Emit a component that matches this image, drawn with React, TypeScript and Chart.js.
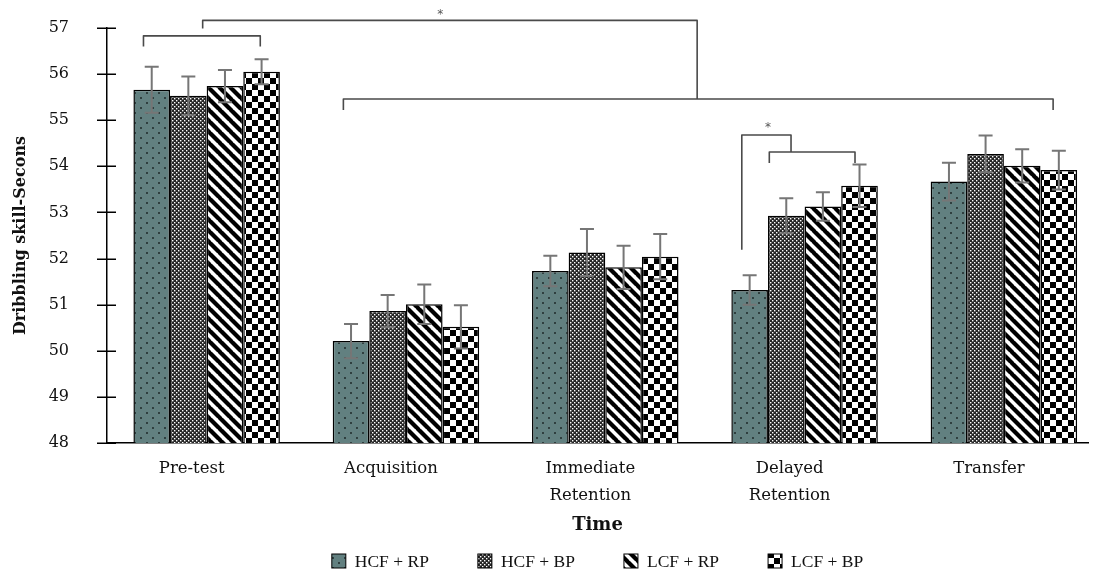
import React, { useEffect, useRef } from 'react';
import { Chart, registerables } from 'chart.js';

Chart.register(...registerables);

// ---------- data ----------
const categories: (string | string[])[] = [
  'Pre-test',
  'Acquisition',
  ['Immediate', 'Retention'],
  ['Delayed', 'Retention'],
  'Transfer',
];
const seriesLabels = ['HCF + RP', 'HCF + BP', 'LCF + RP', 'LCF + BP'];

const hcfRp = [55.66, 50.21, 51.73, 51.32, 53.67];
const hcfBp = [55.53, 50.86, 52.13, 52.93, 54.27];
const lcfRp = [55.74, 51.01, 51.81, 53.13, 54.01];
const lcfBp = [56.05, 50.52, 52.04, 53.58, 53.92];

const hcfRpErr = [0.5, 0.37, 0.33, 0.32, 0.41];
const hcfBpErr = [0.42, 0.35, 0.51, 0.38, 0.4];
const lcfRpErr = [0.35, 0.43, 0.47, 0.31, 0.36];
const lcfBpErr = [0.27, 0.47, 0.49, 0.46, 0.42];

const yMin = 48;
const yMax = 57;
const yStep = 1;

const yTitle = 'Dribbling skill-Secons';
const xTitle = 'Time';

// significance brackets (x in category units, y in seconds)
const bracketPreTest = [[-0.317, 56.6], [-0.317, 56.83], [0.269, 56.83], [0.269, 56.6]];
const bracketTop = [[-0.02, 56.99], [-0.02, 57.165], [2.461, 57.165], [2.461, 55.46]];
const bracketLong = [[0.686, 55.22], [0.686, 55.46], [4.247, 55.46], [4.247, 55.22]];
const bracketDelayedOuter = [[2.685, 52.19], [2.685, 54.68], [2.932, 54.68], [2.932, 54.31]];
const bracketDelayedInner = [[2.823, 54.07], [2.823, 54.31], [3.253, 54.31], [3.253, 54.07]];
const starMarks = [[1.172, 57.33], [2.817, 54.88]];

// ---------- patterns ----------
function tile(w: number, h: number, draw: (c: CanvasRenderingContext2D) => void): CanvasPattern {
  const cv = document.createElement('canvas');
  cv.width = w;
  cv.height = h;
  const c = cv.getContext('2d')!;
  draw(c);
  return c.createPattern(cv, 'repeat')!;
}

function makePatterns(): CanvasPattern[] {
  const dots = tile(12, 10, (c) => {
    c.fillStyle = '#628080';
    c.fillRect(0, 0, 12, 10);
    c.fillStyle = '#1f2a2a';
    c.beginPath();
    c.arc(3, 3, 1, 0, Math.PI * 2);
    c.arc(9, 8, 1, 0, Math.PI * 2);
    c.fill();
  });
  const mesh = tile(4, 4, (c) => {
    c.fillStyle = '#262626';
    c.fillRect(0, 0, 4, 4);
    c.fillStyle = '#ffffff';
    c.fillRect(0, 0, 1.4, 1.4);
    c.fillRect(2, 2, 1.4, 1.4);
  });
  const stripes = tile(11, 11, (c) => {
    c.fillStyle = '#ffffff';
    c.fillRect(0, 0, 11, 11);
    c.strokeStyle = '#000000';
    c.lineWidth = 4.2;
    for (const k of [-11, 0, 11]) {
      c.beginPath();
      c.moveTo(k - 1, -1);
      c.lineTo(k + 12, 12);
      c.stroke();
    }
  });
  const checks = tile(12, 12, (c) => {
    c.fillStyle = '#ffffff';
    c.fillRect(0, 0, 12, 12);
    c.fillStyle = '#000000';
    c.fillRect(0, 0, 6, 6);
    c.fillRect(6, 6, 6, 6);
  });
  return [dots, mesh, stripes, checks];
}

// ---------- plugins ----------
const errorBarPlugin = {
  id: 'errorBars',
  afterDatasetsDraw(chart: any) {
    const errs = [hcfRpErr, hcfBpErr, lcfRpErr, lcfBpErr];
    const y = chart.scales.y;
    const ctx = chart.ctx;
    ctx.save();
    ctx.strokeStyle = '#767676';
    ctx.lineWidth = 2;
    chart.data.datasets.forEach((ds: any, i: number) => {
      const meta = chart.getDatasetMeta(i);
      meta.data.forEach((bar: any, j: number) => {
        const v = ds.data[j].y;
        const e = errs[i][j];
        const top = y.getPixelForValue(v + e);
        const bot = y.getPixelForValue(v - e);
        ctx.beginPath();
        ctx.moveTo(bar.x, top);
        ctx.lineTo(bar.x, bot);
        ctx.moveTo(bar.x - 7, top);
        ctx.lineTo(bar.x + 7, top);
        ctx.moveTo(bar.x - 7, bot);
        ctx.lineTo(bar.x + 7, bot);
        ctx.stroke();
      });
    });
    ctx.restore();
  },
};

const annotationPlugin = {
  id: 'brackets',
  afterDraw(chart: any) {
    const x = chart.scales.x;
    const y = chart.scales.y;
    const ctx = chart.ctx;
    ctx.save();
    // tick marks crossing the y axis
    ctx.strokeStyle = '#000';
    ctx.lineWidth = 1.5;
    y.ticks.forEach((t: any) => {
      const py = Math.round(y.getPixelForValue(t.value)) + 0.25;
      ctx.beginPath();
      ctx.moveTo(chart.chartArea.left - 10, py);
      ctx.lineTo(chart.chartArea.left + 9, py);
      ctx.stroke();
    });
    // brackets
    ctx.strokeStyle = '#4a4a4a';
    ctx.lineWidth = 1.6;
    ctx.lineJoin = 'round';
    [bracketPreTest, bracketTop, bracketLong, bracketDelayedOuter, bracketDelayedInner].forEach((b) => {
      ctx.beginPath();
      b.forEach((p, k) => {
        const px = x.getPixelForValue(p[0]);
        const py = y.getPixelForValue(p[1]);
        if (k === 0) ctx.moveTo(px, py);
        else ctx.lineTo(px, py);
      });
      ctx.stroke();
    });
    ctx.fillStyle = '#555';
    ctx.font = '12px "DejaVu Sans"';
    ctx.textAlign = 'center';
    ctx.textBaseline = 'middle';
    starMarks.forEach((s) => {
      ctx.fillText('*', x.getPixelForValue(s[0]), y.getPixelForValue(s[1]) + 2);
    });
    ctx.restore();
  },
};

const legendPlugin = {
  id: 'customLegend',
  afterDraw(chart: any) {
    const ctx = chart.ctx;
    const ds = chart.data.datasets;
    ctx.save();
    ctx.font = '17.5px "Liberation Serif"';
    ctx.textBaseline = 'middle';
    ctx.textAlign = 'left';
    const box = 14;
    const gapBox = 9;
    const gapItem = 49;
    const widths = ds.map((d: any) => box + gapBox + ctx.measureText(d.label).width);
    const total = widths.reduce((a: number, b: number) => a + b, 0) + gapItem * (ds.length - 1);
    const cx = (chart.chartArea.left + chart.chartArea.right) / 2;
    let px = cx - total / 2;
    const cy = 561;
    ds.forEach((d: any, i: number) => {
      ctx.fillStyle = d.backgroundColor;
      ctx.fillRect(px, cy - box / 2, box, box);
      ctx.strokeStyle = '#000';
      ctx.lineWidth = 1;
      ctx.strokeRect(px, cy - box / 2, box, box);
      ctx.fillStyle = '#111';
      ctx.fillText(d.label, px + box + gapBox, cy + 1);
      px += widths[i] + gapItem;
    });
    ctx.restore();
  },
};

export default function App() {
  const ref = useRef<HTMLCanvasElement>(null);

  useEffect(() => {
    const patterns = makePatterns();
    const series = [hcfRp, hcfBp, lcfRp, lcfBp];
    const chart = new Chart(ref.current!, {
      type: 'bar',
      data: {
        datasets: series.map((s, i) => ({
          label: seriesLabels[i],
          data: s.map((v, j) => ({ x: j, y: v })),
          backgroundColor: patterns[i] as any,
          borderColor: '#000',
          borderWidth: 1.5,
          borderSkipped: 'start',
          categoryPercentage: 0.735,
          barPercentage: 1,
        })),
      },
      options: {
        animation: false,
        responsive: true,
        maintainAspectRatio: false,
        layout: { padding: { top: 28, right: 7, bottom: 37, left: 0 } },
        plugins: {
          legend: { display: false },
          tooltip: { enabled: false },
        },
        scales: {
          x: {
            type: 'linear',
            min: -0.5,
            max: 4.422,
            offset: false,
            afterFit: (s: any) => {
              s.height = 95;
            },
            afterBuildTicks: (s: any) => {
              s.ticks = categories.map((_, i) => ({ value: i - 0.075 }));
            },
            grid: { display: false, drawTicks: false },
            border: { display: true, color: '#000', width: 1.5 },
            ticks: {
              autoSkip: false,
              maxRotation: 0,
              minRotation: 0,
              padding: 13,
              color: '#111',
              font: { family: '"DejaVu Serif"', size: 16.5, lineHeight: 1.6 },
              callback: (v: any) => categories[Math.round(Number(v))] as any,
            },
            title: {
              display: true,
              text: xTitle,
              color: '#111',
              font: { family: '"DejaVu Serif"', size: 18, weight: 'bold' },
              padding: { top: 2, bottom: 2 },
            },
          },
          y: {
            min: yMin,
            max: yMax,
            afterFit: (s: any) => {
              s.width = 107;
            },
            grid: {
              display: true,
              drawOnChartArea: false,
              drawTicks: true,
              tickLength: 38,
              color: 'rgba(0,0,0,0)',
            },
            border: { display: true, color: '#000', width: 1.5 },
            ticks: {
              stepSize: yStep,
              padding: 0,
              color: '#111',
              font: { family: '"DejaVu Serif"', size: 16 },
            },
            title: {
              display: true,
              text: yTitle,
              color: '#111',
              font: { family: '"DejaVu Serif"', size: 16, weight: 'bold' },
              padding: { top: 11, bottom: 0 },
            },
          },
        },
      },
      plugins: [errorBarPlugin, annotationPlugin, legendPlugin],
    });
    return () => chart.destroy();
  }, []);

  return (
    <div style={{ position: 'absolute', left: 0, top: 0, width: 1095, height: 575, background: '#fff' }}>
      <canvas ref={ref} />
    </div>
  );
}
